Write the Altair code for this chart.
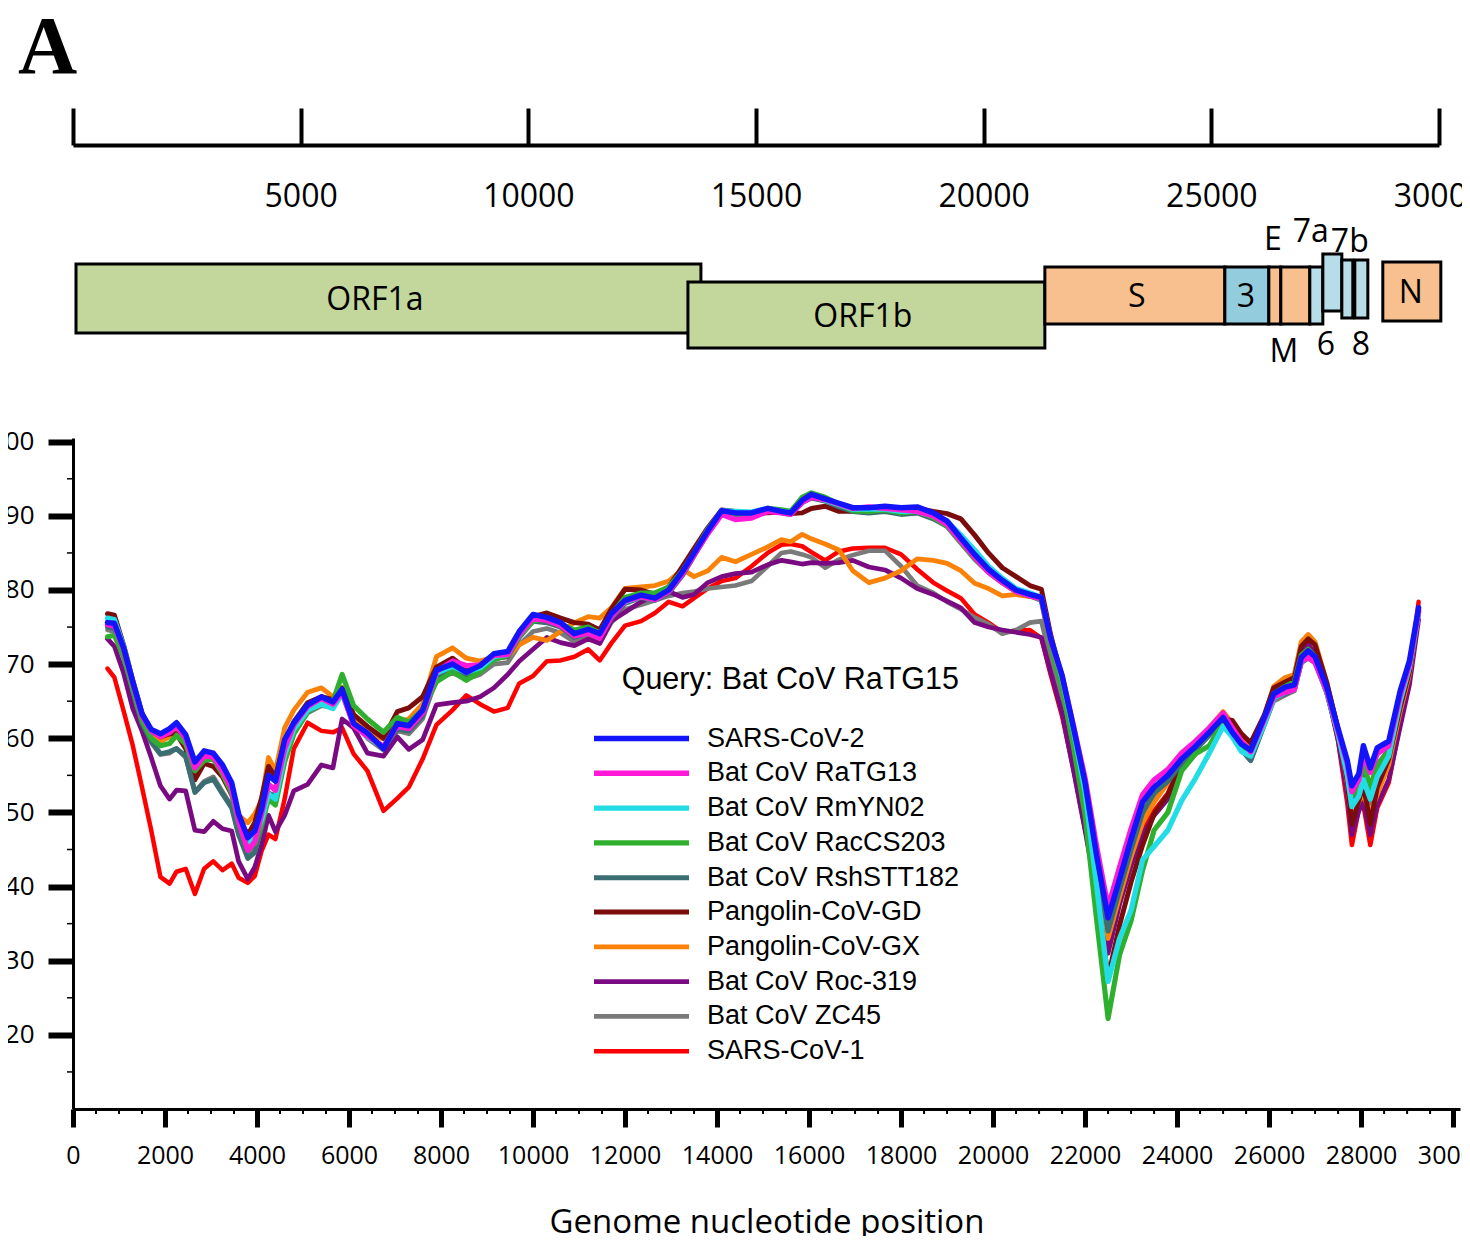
import altair as alt
import pandas as pd

# ---------------- data ----------------
positions = [750, 900, 1100, 1300, 1500, 1700, 1900, 2100, 2250, 2450,
             2650, 2850, 3050, 3250, 3450, 3600, 3800, 3950, 4100, 4250,
             4400, 4600, 4800, 5100, 5400, 5650, 5850, 6100, 6400, 6750,
             7050, 7300, 7600, 7900, 8250, 8550, 8850, 9150, 9450, 9700,
             10000, 10300, 10600, 10900, 11200, 11450, 11700, 12000, 12350, 12650,
             12950, 13250, 13500, 13800, 14100, 14400, 14750, 15100, 15400, 15600,
             15850, 16050, 16350, 16650, 16950, 17300, 17650, 18000, 18350, 18700,
             19000, 19300, 19600, 19900, 20200, 20500, 20800, 21050, 21250, 21500,
             21750, 22000, 22250, 22500, 22750, 23000, 23250, 23500, 23800, 24100,
             24400, 24700, 25000, 25200, 25400, 25600, 25900, 26100, 26350, 26550,
             26700, 26850, 27000, 27250, 27500, 27700, 27800, 27950, 28050, 28200,
             28350, 28600, 28850, 29050, 29250]

series_names = ["SARS-CoV-2", "Bat CoV RaTG13", "Bat CoV RmYN02", "Bat CoV RacCS203",
                "Bat CoV RshSTT182", "Pangolin-CoV-GD", "Pangolin-CoV-GX",
                "Bat CoV Roc-319", "Bat CoV ZC45", "SARS-CoV-1"]

sars_cov_2 = [75.6, 75.5, 72.2, 67.6, 63.3, 61.2, 60.6, 61.3, 62.1, 60.5,
              56.8, 58.3, 58.0, 56.4, 54.0, 49.8, 46.6, 47.5, 50.5, 55.0,
              54.2, 59.8, 62.1, 64.5, 65.6, 64.9, 66.6, 62.0, 60.7, 58.6,
              62.0, 61.7, 63.8, 69.2, 70.0, 68.9, 69.8, 71.4, 71.7, 74.4,
              76.7, 76.3, 75.6, 74.1, 74.7, 74.1, 76.8, 78.6, 79.3, 78.9,
              80.0, 82.5, 85.0, 88.0, 90.7, 90.4, 90.4, 91.0, 90.6, 90.4,
              92.1, 92.9, 92.3, 91.7, 91.1, 91.1, 91.3, 91.1, 91.2, 90.4,
              89.3, 87.0, 84.8, 82.8, 81.3, 80.0, 79.4, 79.0, 73.5, 68.5,
              61.4, 54.0, 44.2, 35.8, 41.0, 46.4, 51.4, 53.4, 55.0, 57.2,
              58.9, 60.8, 62.8, 60.8, 59.2, 58.4, 62.9, 66.0, 66.9, 67.2,
              70.9, 71.8, 71.0, 67.0, 61.3, 57.0, 53.6, 55.2, 59.0, 56.0,
              58.7, 59.6, 66.4, 70.4, 77.6]

bat_ratg13 = [75.3, 75.2, 72.0, 67.4, 63.0, 61.0, 60.2, 60.8, 61.6, 60.0,
              56.0, 57.6, 57.5, 55.6, 53.2, 48.8, 44.9, 46.0, 49.8, 53.8,
              53.0, 58.6, 61.8, 64.3, 65.4, 64.6, 66.2, 61.7, 60.3, 58.9,
              61.6, 61.3, 63.4, 69.0, 70.4, 69.8, 69.9, 71.2, 71.3, 74.0,
              76.2, 75.9, 75.2, 73.8, 74.2, 73.5, 76.4, 78.5, 79.1, 78.7,
              79.8, 82.2, 84.7, 87.6, 90.2, 89.5, 89.7, 90.6, 90.4, 90.2,
              91.8, 92.5, 92.2, 91.6, 91.0, 91.2, 91.0, 90.8, 90.6, 90.0,
              88.8, 86.6, 84.4, 82.4, 81.0, 79.8, 79.2, 78.8, 73.2, 68.4,
              61.6, 54.6, 45.4, 37.2, 42.6, 47.8, 52.4, 54.4, 55.8, 58.0,
              59.6, 61.4, 63.4, 61.4, 59.6, 58.2, 62.6, 65.6, 66.2, 66.6,
              70.4, 70.9, 70.2, 66.5, 61.0, 56.6, 52.8, 54.4, 57.8, 55.4,
              57.9, 59.0, 65.8, 70.0, 77.2]

bat_rmyn02 = [76.2, 76.0, 72.4, 67.6, 63.2, 61.0, 60.3, 60.9, 61.7, 60.1,
              56.3, 57.9, 57.8, 55.9, 53.5, 49.2, 45.8, 46.8, 49.0, 52.5,
              51.8, 57.8, 61.2, 63.8, 64.6, 64.0, 66.0, 62.0, 60.2, 58.8,
              61.8, 61.4, 63.6, 68.8, 69.7, 68.9, 69.5, 71.0, 71.3, 74.0,
              76.3, 76.0, 75.3, 74.0, 74.5, 74.0, 76.6, 78.4, 79.1, 78.7,
              79.9, 82.4, 84.9, 88.0, 90.7, 90.6, 90.5, 91.0, 90.6, 90.4,
              92.0, 92.6, 92.1, 91.5, 90.9, 90.9, 90.9, 90.6, 90.6, 90.0,
              89.3, 87.4, 85.4, 83.2, 81.6, 80.2, 79.6, 79.0, 73.4, 68.2,
              61.0, 52.8, 40.2, 27.2, 33.0, 36.8, 43.6, 45.4, 47.6, 51.6,
              54.6, 58.0, 61.6, 60.2, 58.2, 57.6, 62.0, 65.4, 66.2, 66.6,
              70.4, 71.0, 70.4, 66.4, 60.6, 55.0, 50.8, 52.2, 54.4, 51.8,
              54.8, 57.6, 65.0, 69.6, 77.0]

bat_raccs203 = [73.7, 73.9, 71.0, 66.6, 62.4, 60.0, 59.0, 59.3, 60.4, 59.2,
                55.6, 57.0, 57.2, 55.2, 52.6, 48.6, 45.2, 45.8, 48.4, 51.8,
                51.0, 56.8, 60.6, 63.6, 64.6, 65.0, 68.6, 64.4, 62.6, 60.8,
                62.8, 62.2, 63.8, 67.6, 69.0, 67.8, 69.0, 70.6, 71.2, 73.8,
                75.8, 76.2, 75.4, 74.6, 75.0, 74.2, 76.6, 79.0, 79.6, 79.6,
                80.4, 82.6, 85.0, 88.2, 90.6, 90.2, 90.4, 91.0, 90.8, 90.6,
                92.5, 93.1, 92.5, 91.6, 90.7, 90.6, 90.8, 90.4, 90.6, 89.8,
                88.6, 86.4, 84.2, 82.4, 81.0, 79.8, 79.2, 78.6, 72.4, 66.8,
                58.8, 49.6, 35.6, 22.2, 30.8, 35.4, 42.2, 47.6, 50.0, 55.6,
                57.9, 59.0, 62.2, 60.6, 59.0, 57.8, 62.6, 66.0, 67.0, 67.6,
                71.2, 72.0, 71.0, 66.6, 60.8, 55.6, 52.2, 53.6, 56.6, 53.4,
                56.4, 58.2, 65.6, 70.0, 77.2]

bat_rshstt182 = [75.0, 74.8, 71.2, 66.4, 62.0, 59.6, 57.9, 58.2, 58.6, 57.6,
                 52.7, 54.0, 54.5, 52.5, 50.6, 47.0, 43.8, 44.6, 48.0, 52.6,
                 52.2, 57.4, 61.0, 63.6, 64.6, 64.4, 66.2, 62.0, 60.4, 58.8,
                 61.2, 61.0, 63.0, 68.4, 69.4, 68.6, 69.2, 70.8, 71.0, 73.6,
                 75.8, 75.6, 75.0, 73.6, 74.2, 73.6, 76.2, 78.2, 79.0, 78.6,
                 79.6, 82.0, 84.6, 87.8, 90.4, 90.0, 90.2, 90.8, 90.4, 90.2,
                 91.8, 92.4, 92.0, 91.2, 90.6, 90.4, 90.6, 90.2, 90.4, 89.6,
                 88.6, 86.4, 84.2, 82.4, 81.0, 79.8, 79.2, 78.8, 73.0, 67.8,
                 60.6, 52.6, 42.8, 34.0, 39.6, 45.0, 50.0, 52.6, 54.2, 56.6,
                 58.4, 60.4, 62.4, 60.4, 58.4, 57.0, 62.0, 65.4, 66.0, 66.6,
                 70.2, 70.8, 70.2, 66.2, 60.6, 55.4, 51.6, 53.0, 55.6, 52.8,
                 56.4, 58.4, 65.4, 69.8, 77.0]

pangolin_gd = [76.8, 76.6, 72.6, 67.8, 63.4, 61.0, 60.2, 60.6, 60.6, 58.6,
               54.4, 56.6, 56.2, 54.8, 52.4, 49.0, 47.0, 48.6, 52.0, 56.2,
               54.8, 59.6, 62.2, 64.8, 65.6, 65.2, 66.8, 63.2, 61.6, 60.0,
               63.6, 64.1, 65.6, 69.6, 70.8, 69.4, 69.8, 71.2, 71.5, 74.2,
               76.4, 76.9, 76.2, 75.6, 75.4, 74.6, 77.4, 80.1, 80.0, 79.4,
               80.4, 83.2, 85.6, 88.4, 90.8, 90.6, 90.3, 90.4, 90.5, 90.3,
               90.4, 91.0, 91.3, 90.6, 90.6, 91.1, 91.1, 91.0, 91.0, 90.6,
               90.3, 89.6, 87.4, 85.0, 83.0, 81.8, 80.6, 80.1, 74.0, 68.0,
               60.2, 50.8, 39.6, 27.7, 34.8, 40.6, 45.6, 49.8, 52.4, 56.6,
               59.2, 61.0, 62.6, 62.4, 60.6, 59.4, 63.2, 66.8, 67.6, 68.2,
               72.4, 73.4, 72.6, 67.6, 61.2, 54.2, 48.4, 51.6, 53.8, 48.4,
               53.4, 57.2, 64.2, 69.0, 77.2]

pangolin_gx = [75.6, 75.3, 71.8, 67.2, 62.8, 60.6, 59.6, 60.2, 60.9, 59.6,
               56.4, 57.8, 57.4, 55.6, 53.2, 49.6, 48.6, 49.8, 51.6, 57.4,
               55.6, 61.4, 63.8, 66.2, 66.8, 65.6, 66.2, 63.2, 60.6, 59.9,
               62.2, 62.6, 64.6, 71.0, 72.2, 70.8, 70.4, 71.0, 71.0, 72.6,
               73.6, 73.2, 74.4, 75.6, 76.4, 76.2, 77.6, 80.2, 80.4, 80.6,
               81.2, 82.8, 81.8, 82.6, 84.4, 83.8, 84.8, 85.8, 86.8, 86.5,
               87.5, 86.9, 86.2, 85.4, 82.6, 81.0, 81.6, 82.6, 84.2, 84.0,
               83.6, 82.6, 80.9, 80.2, 79.2, 79.4, 79.1, 79.0, 73.2, 67.6,
               59.6, 50.4, 41.0, 33.0, 38.6, 44.0, 48.6, 51.4, 54.0, 57.6,
               59.4, 61.4, 63.6, 62.0, 60.0, 58.8, 63.0, 67.0, 68.2, 68.6,
               73.0, 74.0, 73.0, 67.6, 61.2, 54.0, 48.9, 51.5, 52.4, 49.8,
               52.4, 56.4, 63.6, 68.6, 77.0]

bat_roc319 = [73.4, 72.4, 68.8, 64.0, 61.0, 57.4, 53.6, 51.8, 53.0, 52.9,
              47.6, 47.4, 48.8, 47.8, 47.5, 43.4, 41.0, 42.6, 45.6, 49.6,
              47.4, 49.6, 52.9, 53.8, 56.4, 56.0, 62.6, 61.4, 58.0, 57.6,
              60.2, 58.5, 59.8, 64.5, 64.8, 65.0, 65.6, 66.8, 68.6, 70.4,
              72.0, 73.6, 72.9, 72.5, 73.4, 72.8, 75.8, 77.0, 78.4, 79.4,
              79.8, 79.0, 79.4, 81.0, 81.8, 82.2, 82.4, 83.4, 84.0, 83.8,
              83.5, 83.7, 83.6, 83.7, 84.0, 83.1, 82.7, 81.6, 80.2, 79.4,
              78.5, 77.6, 75.6, 75.0, 74.6, 74.3, 74.0, 73.6, 69.0, 63.4,
              55.6, 47.6, 39.0, 31.0, 37.6, 42.8, 47.0, 49.6, 51.8, 57.0,
              59.0, 61.0, 62.6, 61.6, 59.8, 58.4, 62.4, 66.2, 67.4, 67.8,
              71.6, 72.6, 71.6, 66.4, 59.8, 52.4, 47.0, 50.2, 51.4, 47.0,
              51.0, 54.4, 61.6, 67.2, 76.0]

bat_zc45 = [74.6, 74.4, 70.8, 66.0, 61.8, 59.4, 57.8, 58.0, 58.6, 57.4,
            52.8, 54.2, 54.8, 52.8, 50.8, 47.2, 44.2, 45.2, 48.4, 52.6,
            52.0, 57.0, 60.6, 63.4, 64.4, 64.2, 66.0, 62.0, 60.0, 58.4,
            61.0, 60.6, 62.6, 68.0, 68.8, 68.0, 68.6, 70.0, 70.2, 72.6,
            74.4, 74.8, 74.2, 73.0, 73.6, 72.8, 75.6, 77.4, 78.0, 78.6,
            79.2, 79.6, 79.8, 80.2, 80.4, 80.6, 81.2, 83.2, 85.0, 85.2,
            84.8, 84.4, 83.0, 84.1, 84.7, 85.3, 85.3, 83.2, 80.6, 79.6,
            78.4, 77.4, 76.3, 75.4, 74.1, 74.6, 75.6, 75.8, 70.6, 65.6,
            58.2, 50.2, 41.8, 33.6, 39.4, 44.8, 49.6, 52.4, 54.0, 56.6,
            58.6, 60.6, 62.6, 60.6, 58.6, 57.0, 61.8, 65.0, 65.8, 66.4,
            70.2, 71.0, 70.4, 66.2, 60.4, 55.2, 51.4, 53.2, 55.8, 51.2,
            55.6, 58.0, 65.0, 69.4, 77.0]

sars_cov_1 = [69.4, 68.2, 63.7, 59.0, 53.4, 47.6, 41.3, 40.4, 42.0, 42.4,
              39.0, 42.4, 43.4, 42.2, 43.1, 41.2, 40.5, 41.4, 44.8, 47.0,
              46.4, 51.8, 58.6, 62.1, 61.0, 60.8, 61.4, 57.9, 55.6, 50.2,
              51.9, 53.4, 57.2, 61.8, 63.8, 65.8, 64.6, 63.6, 64.1, 67.4,
              68.4, 70.4, 70.5, 71.0, 72.0, 70.5, 72.8, 75.2, 75.8, 76.9,
              78.4, 77.8, 78.9, 80.2, 81.2, 81.6, 83.2, 85.0, 86.1, 86.2,
              85.9, 85.1, 84.0, 85.2, 85.6, 85.7, 85.7, 84.8, 82.8, 81.0,
              79.9, 78.9, 76.7, 75.6, 74.3, 74.5, 74.6, 73.5, 68.6, 63.0,
              55.8, 47.8, 40.6, 32.6, 38.6, 43.6, 47.6, 50.2, 52.6, 57.0,
              59.4, 61.2, 63.0, 62.2, 60.2, 58.8, 62.8, 66.6, 68.0, 68.6,
              72.8, 73.6, 72.8, 67.0, 59.6, 51.2, 45.6, 50.4, 51.0, 45.6,
              50.6, 54.0, 62.0, 68.2, 78.4]

series_values = [sars_cov_2, bat_ratg13, bat_rmyn02, bat_raccs203, bat_rshstt182,
                 pangolin_gd, pangolin_gx, bat_roc319, bat_zc45, sars_cov_1]

# genome map (genome coordinates; track top/bottom in diagram units)
gene_names = ["ORF1a", "ORF1b", "S", "3", "E", "M", "6", "7a", "7b", "8", "N"]
gene_start = [66, 13505, 21344, 25297, 26263, 26526, 27163, 27449, 27866, 28151, 28766]
gene_end = [13790, 21344, 25297, 26263, 26526, 27163, 27449, 27866, 28107, 28437, 30040]
gene_kind = ["ORF1", "ORF1", "structural", "ORF3", "structural", "structural",
             "accessory", "accessory", "accessory", "accessory", "structural"]
gene_top = [8.4, 6.6, 8.1, 8.1, 8.1, 8.1, 8.1, 9.4, 8.8, 8.8, 8.6]
gene_bottom = [1.5, 0.0, 2.4, 2.4, 2.4, 2.4, 2.4, 3.7, 3.0, 3.0, 2.7]

label_text = ["ORF1a", "ORF1b", "S", "3", "N", "E", "7a", "7b", "M", "6", "8"]
label_x = [6632, 17347, 23364, 25758, 29381, 26350, 27185, 28041, 26592, 27514, 28283]
label_y = [4.8, 3.1, 5.1, 5.1, 5.5, 10.8, 11.6, 10.6, -0.4, 0.3, 0.3]

map_ticks = [0, 5000, 10000, 15000, 20000, 25000, 30000]
x_ticks = [0, 2000, 4000, 6000, 8000, 10000, 12000, 14000, 16000, 18000, 20000,
           22000, 24000, 26000, 28000, 30000]
y_ticks = [20, 30, 40, 50, 60, 70, 80, 90, 100]
x_minor = [v for v in range(500, 30001, 500) if v % 2000 != 0]
y_minor = [15, 25, 35, 45, 55, 65, 75, 85, 95]

# ---------------- styles ----------------
series_colors = ["#1414fa", "#ff18d8", "#22dde6", "#2eb02e", "#3a6e72",
                 "#7a0c0c", "#fb8208", "#7a0a82", "#7a7a7a", "#ff0000"]
series_widths = [5.5, 4.5, 4.5, 4.5, 4.5, 4.5, 4.5, 4.5, 4.5, 4.5]
kind_domain = ["ORF1", "structural", "ORF3", "accessory"]
kind_colors = ["#c3d69b", "#f9c08f", "#93cddd", "#b7dde8"]

# ---------------- tables ----------------
rows = []
for name, vals in reversed(list(zip(series_names, series_values))):
    assert len(vals) == len(positions), name
    for p, v in zip(positions, vals):
        rows.append({"series": name, "position": p, "identity": v})
df = pd.DataFrame(rows)

genes = pd.DataFrame({"gene": gene_names, "start": gene_start, "end": gene_end,
                      "kind": gene_kind, "top": gene_top, "bottom": gene_bottom})
gene_labels = pd.DataFrame({"text": label_text, "start": label_x, "top": label_y})

# ---------------- genome map ----------------
map_x = alt.Scale(domain=[0, 30000], nice=False, zero=False)
map_y = alt.Scale(domain=[0, 9.4], nice=False, zero=False)

top_axis = alt.Axis(orient="top", offset=109, values=map_ticks, format="d",
                    labelExpr="datum.value == 0 ? '' : datum.label",
                    tickSize=37, tickWidth=4, tickColor="black",
                    domainWidth=4, domainColor="black",
                    labelPadding=-88.5, labelBaseline="middle",
                    labelFont="Open Sans", labelFontSize=32, labelColor="black",
                    labelFlush=False, labelOverlap=False, grid=False, title=None)

boxes = alt.Chart(genes).mark_rect(stroke="black", strokeWidth=3).encode(
    x=alt.X("start:Q", scale=map_x, axis=top_axis),
    x2="end:Q",
    y=alt.Y("top:Q", scale=map_y, axis=None),
    y2="bottom:Q",
    fill=alt.Fill("kind:N", scale=alt.Scale(domain=kind_domain, range=kind_colors), legend=None),
)

gene_text = alt.Chart(gene_labels).mark_text(
    font="Open Sans", fontSize=32, color="black", baseline="middle", align="center"
).encode(
    x=alt.X("start:Q", scale=map_x),
    y=alt.Y("top:Q", scale=map_y, axis=None),
    text="text:N",
)

genome_map = alt.layer(boxes, gene_text).properties(
    width=1366, height=94,
    title=alt.TitleParams("A", anchor="start", font="Liberation Serif", fontSize=82,
                          fontWeight="bold", color="black", dx=-53, offset=16),
    view=alt.ViewBackground(strokeOpacity=0),
)

# ---------------- identity plot ----------------
x_scale = alt.Scale(domain=[0, 30150], nice=False, zero=False)
y_scale = alt.Scale(domain=[10, 100.5], nice=False, zero=False)

x_axis = alt.Axis(values=x_ticks, format="d", tickSize=18, tickWidth=5, tickColor="black",
                  domainWidth=3, domainColor="black", labelFont="Open Sans", labelFontSize=25,
                  labelColor="black", labelPadding=16, labelFlush=False, labelOverlap=False,
                  grid=False, title="Genome nucleotide position", titleFont="Open Sans",
                  titleFontSize=33, titleFontWeight="normal", titleColor="black", titlePadding=38)
y_axis = alt.Axis(values=y_ticks, format="d", tickSize=25, tickWidth=6, tickColor="black",
                  domainWidth=3, domainColor="black", labelFont="Open Sans", labelFontSize=26,
                  labelColor="black", labelPadding=14, labelFlush=False, labelOverlap=False,
                  grid=False, title=None)

# legend (shared at the concat level, so placed relative to the top panel origin)
legend = alt.Legend(orient="none", legendX=518, legendY=411, padding=0,
                    title="Query: Bat CoV RaTG15", titleFont="Liberation Sans", titleFontSize=30.5,
                    titleFontWeight="normal", titleColor="black", titleAnchor="end",
                    titlePadding=27, titleLimit=600,
                    labelFont="Liberation Sans", labelFontSize=27, labelColor="black",
                    labelOffset=84, labelLimit=600, symbolType="M-1,0H6.31", symbolSize=676,
                    symbolStrokeWidth=6, rowPadding=5.8)

lines = alt.Chart(df).mark_line(strokeJoin="round", strokeCap="round").encode(
    x=alt.X("position:Q", scale=x_scale, axis=x_axis),
    y=alt.Y("identity:Q", scale=y_scale, axis=y_axis),
    color=alt.Color("series:N", scale=alt.Scale(domain=series_names, range=series_colors),
                    legend=legend),
    strokeWidth=alt.StrokeWidth("series:N", scale=alt.Scale(domain=series_names, range=series_widths),
                                legend=None),
)

x_minor_ticks = alt.Chart(pd.DataFrame({"position": x_minor})).mark_rule(
    color="black", strokeWidth=2).encode(
    x=alt.X("position:Q", scale=x_scale),
    y=alt.value(671), y2=alt.value(676),
)
y_minor_ticks = alt.Chart(pd.DataFrame({"identity": y_minor})).mark_rule(
    color="black", strokeWidth=1.5).encode(
    y=alt.Y("identity:Q", scale=y_scale),
    x=alt.value(-6), x2=alt.value(0),
)

identity_plot = alt.layer(lines, x_minor_ticks, y_minor_ticks).properties(
    width=1387, height=671,
    view=alt.ViewBackground(stroke="#555555", strokeWidth=1.5),
)

base = alt.vconcat(genome_map, identity_plot, spacing=60).resolve_scale(
    x="independent", y="independent")

chart = base.properties(padding={"left": -19, "top": -1, "right": -27, "bottom": -3})
try:
    chart.to_dict()
except Exception:
    chart = base.properties(padding=0)

chart = chart.configure(font="Open Sans").configure_view(strokeOpacity=0)

chart.save("out.html", embed_options={"renderer": "svg", "actions": False})
